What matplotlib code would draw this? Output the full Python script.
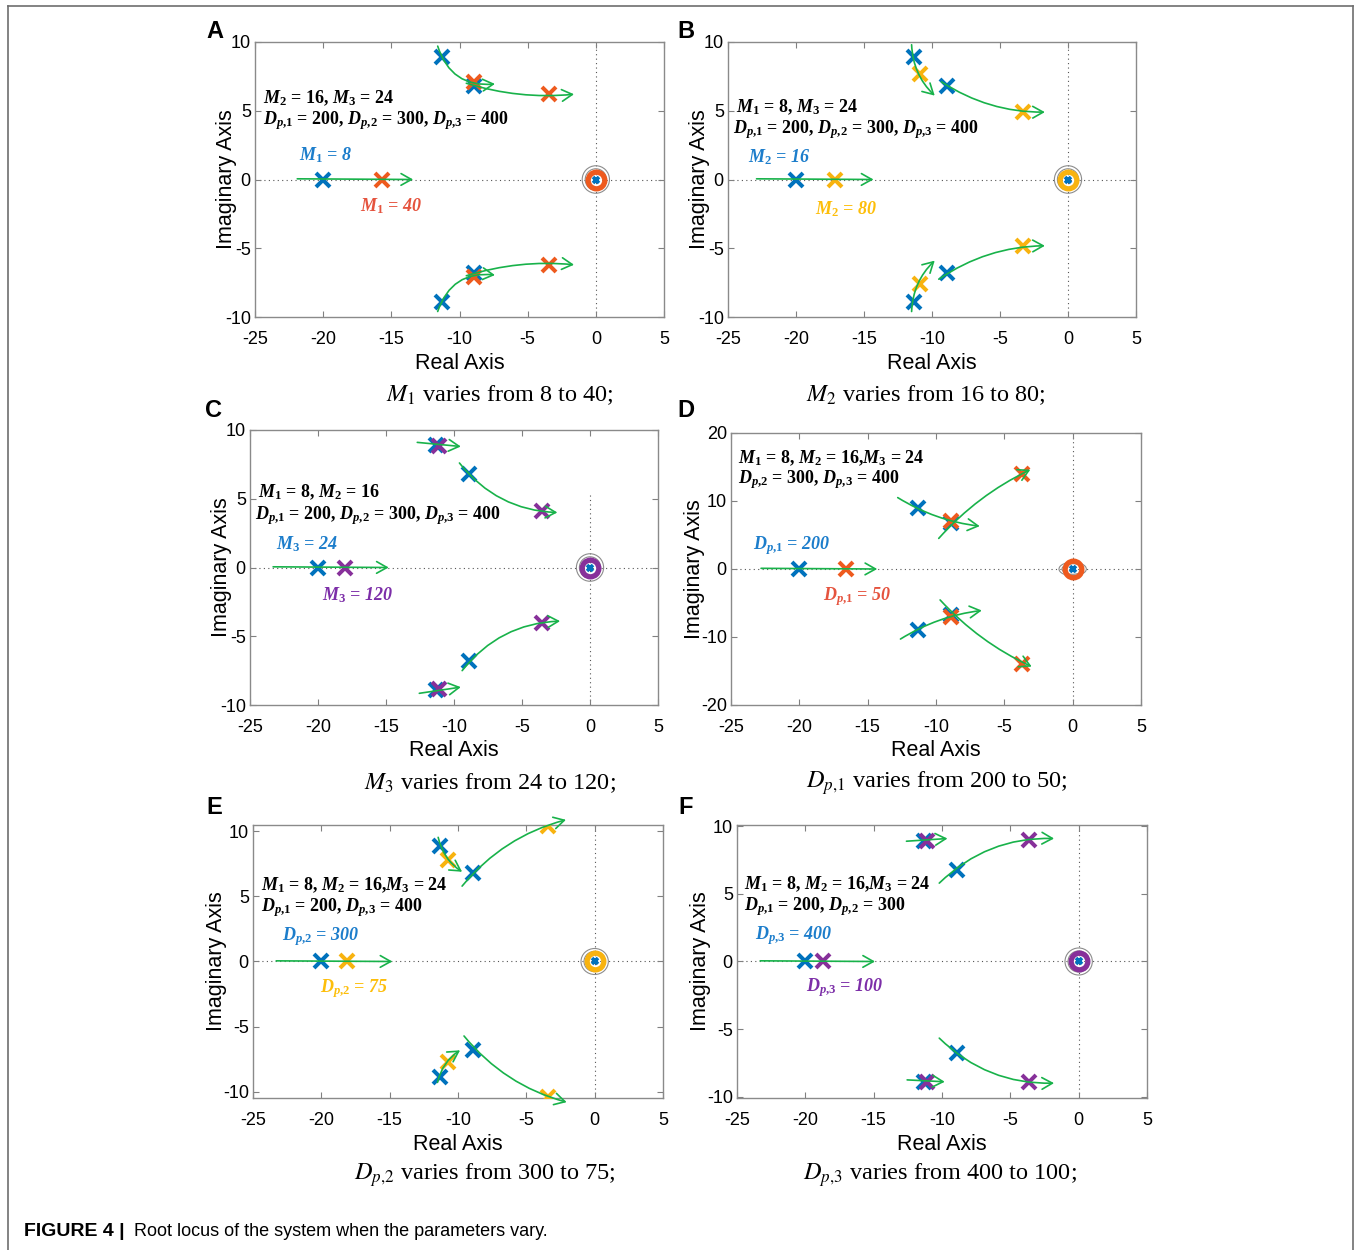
import matplotlib
matplotlib.use("Agg")
import matplotlib.pyplot as plt
from matplotlib.patches import FancyArrowPatch, Circle
from matplotlib.lines import Line2D

plt.rcParams['font.family'] = ['Liberation Sans', 'DejaVu Sans']
plt.rcParams['axes.unicode_minus'] = False
plt.rcParams['mathtext.fontset'] = 'custom'
plt.rcParams['mathtext.rm'] = 'Liberation Serif:bold'
plt.rcParams['mathtext.it'] = 'Liberation Serif:italic:bold'
plt.rcParams['mathtext.bf'] = 'Liberation Serif:bold'

# ---- data ----
# base-case poles (blue), same system in every panel
BASE_RE = [-20.0, -11.3, -11.3, -8.9, -8.9]
BASE_IM = [0.0, 8.9, -8.9, 6.8, -6.8]
ORIGIN_RE = [0.0]
ORIGIN_IM = [0.0]

# poles after the parameter change
A_RE = [-15.7, -8.9, -8.9, -3.4, -3.4]
A_IM = [0.0, 7.1, -7.1, 6.2, -6.2]
B_RE = [-17.1, -10.9, -10.9, -3.3, -3.3]
B_IM = [0.0, 7.7, -7.6, 4.9, -4.85]
C_RE = [-18.0, -11.1, -11.1, -3.5, -3.5]
C_IM = [0.0, 8.85, -8.8, 4.1, -4.05]
D_RE = [-16.6, -8.9, -8.9, -3.7, -3.7]
D_IM = [0.0, 7.1, -7.0, 14.0, -13.9]
E_RE = [-18.1, -10.7, -10.7, -3.4, -3.4]
E_IM = [0.0, 7.8, -7.7, 10.4, -10.4]
F_RE = [-18.7, -11.1, -11.1, -3.6, -3.6]
F_IM = [0.0, 8.9, -8.9, 9.0, -8.9]

# locus arrows: (x start, y start, x end, y end, curvature)
A_ARROWS = [(-21.9, 0.05, -13.4, 0.0, 0.0), (-11.6, 9.7, -7.4, 6.95, 0.4),
            (-9.5, 7.0, -1.6, 6.2, 0.1), (-11.6, -9.6, -7.4, -6.95, -0.4),
            (-9.5, -7.0, -1.6, -6.2, -0.1)]
B_ARROWS = [(-22.9, 0.05, -14.3, 0.0, 0.0), (-11.5, 9.8, -9.8, 6.1, 0.2),
            (-9.3, 7.1, -1.7, 4.9, 0.15), (-11.5, -9.6, -9.8, -5.9, -0.2),
            (-9.5, -7.25, -1.7, -4.82, -0.15)]
C_ARROWS = [(-23.3, 0.05, -14.8, 0.0, 0.0), (-12.7, 9.1, -9.5, 8.8, 0.0),
            (-9.6, 7.6, -2.4, 4.0, 0.23), (-12.55, -9.15, -9.5, -8.7, 0.0),
            (-9.4, -7.5, -2.2, -3.9, -0.23)]
D_ARROWS = [(-22.8, 0.1, -14.3, 0.0, 0.0), (-12.8, 10.5, -6.8, 6.3, 0.11),
            (-9.8, 4.5, -3.1, 14.6, -0.1), (-12.6, -10.3, -6.65, -6.1, -0.11),
            (-9.7, -4.55, -3.0, -14.35, 0.1)]
E_ARROWS = [(-23.3, 0.05, -14.8, 0.0, 0.0), (-11.45, 9.55, -9.7, 6.9, 0.2),
            (-9.7, 5.8, -2.1, 10.9, -0.16), (-11.5, -9.3, -9.85, -6.83, -0.2),
            (-9.56, -5.73, -2.05, -10.82, 0.16)]
F_ARROWS = [(-23.3, 0.05, -14.9, 0.0, 0.0), (-12.6, 8.9, -9.6, 9.1, 0.0),
            (-10.2, 5.8, -1.8, 9.1, -0.21), (-12.55, -8.76, -9.8, -8.9, 0.0),
            (-10.2, -5.67, -1.8, -9.0, 0.21)]

# texts
A_FIXED = [r'$M_2$ = 16, $M_3$ = 24', r'$D_{p{,}1}$ = 200, $D_{p{,}2}$ = 300, $D_{p{,}3}$ = 400']
B_FIXED = [r'$M_1$ = 8, $M_3$ = 24', r'$D_{p{,}1}$ = 200, $D_{p{,}2}$ = 300, $D_{p{,}3}$ = 400']
C_FIXED = [r'$M_1$ = 8, $M_2$ = 16', r'$D_{p{,}1}$ = 200, $D_{p{,}2}$ = 300, $D_{p{,}3}$ = 400']
D_FIXED = [r'$M_1$ = 8, $M_2$ = 16,$M_3$ = 24', r'$D_{p{,}2}$ = 300, $D_{p{,}3}$ = 400']
E_FIXED = [r'$M_1$ = 8, $M_2$ = 16,$M_3$ = 24', r'$D_{p{,}1}$ = 200, $D_{p{,}3}$ = 400']
F_FIXED = [r'$M_1$ = 8, $M_2$ = 16,$M_3$ = 24', r'$D_{p{,}1}$ = 200, $D_{p{,}2}$ = 300']

A_LABELS = [r'$M_1$ = 8', r'$M_1$ = 40']
B_LABELS = [r'$M_2$ = 16', r'$M_2$ = 80']
C_LABELS = [r'$M_3$ = 24', r'$M_3$ = 120']
D_LABELS = [r'$D_{p{,}1}$ = 200', r'$D_{p{,}1}$ = 50']
E_LABELS = [r'$D_{p{,}2}$ = 300', r'$D_{p{,}2}$ = 75']
F_LABELS = [r'$D_{p{,}3}$ = 400', r'$D_{p{,}3}$ = 100']

A_CAPTION = r'$M_1$ varies from 8 to 40;'
B_CAPTION = r'$M_2$ varies from 16 to 80;'
C_CAPTION = r'$M_3$ varies from 24 to 120;'
D_CAPTION = r'$D_{p{,}1}$ varies from 200 to 50;'
E_CAPTION = r'$D_{p{,}2}$ varies from 300 to 75;'
F_CAPTION = r'$D_{p{,}3}$ varies from 400 to 100;'

# ---- styling ----
BLUE = '#0072BD'
ORANGE = '#EE5A1E'
YELLOW = '#F8B30F'
PURPLE = '#87309A'
GREEN = '#18B24A'
TXT_BLUE = '#1C7DCB'
TXT_RED = '#E5533E'
TXT_YELLOW = '#FDBE0A'
TXT_PURPLE = '#7C2EA8'

W, H = 1356, 1250

# per panel layout in pixels: axes box, ylim, ylabel x, fixed-text/label positions
LAYOUT = {
    'A': dict(box=(255, 42, 664, 317), ylim=(-10, 10), yt=[-10, -5, 0, 5, 10],
              ylab=-0.07, fixed=[(-24.4, 5.9), (-24.4, 4.3)],
              lab=[(-21.8, 1.8), (-17.3, -1.95)], letter=(215, 32), cap=(500, 395),
              vline=1.0),
    'B': dict(box=(728, 42, 1136, 317), ylim=(-10, 10), yt=[-10, -5, 0, 5, 10],
              ylab=-0.07, fixed=[(-24.4, 5.25), (-24.6, 3.65)],
              lab=[(-23.5, 1.6), (-18.6, -2.15)], letter=(686, 32), cap=(926, 395),
              vline=1.0),
    'C': dict(box=(250, 430, 658, 705), ylim=(-10, 10), yt=[-10, -5, 0, 5, 10],
              ylab=-0.07, fixed=[(-24.4, 5.45), (-24.6, 3.8)],
              lab=[(-23.1, 1.7), (-19.7, -2.0)], letter=(214, 410), cap=(490, 783),
              vline=0.765),
    'D': dict(box=(731, 433, 1141, 705), ylim=(-20, 20), yt=[-20, -10, 0, 10, 20],
              ylab=-0.088, fixed=[(-24.5, 16.3), (-24.5, 13.1)],
              lab=[(-23.4, 3.5), (-18.3, -4.0)], letter=(686, 410), cap=(937, 783),
              vline=1.0),
    'E': dict(box=(253, 825, 663, 1098), ylim=(-10.5, 10.5), yt=[-10, -5, 0, 5, 10],
              ylab=-0.088, fixed=[(-24.45, 5.9), (-24.45, 4.15)],
              lab=[(-22.9, 1.9), (-20.1, -2.1)], letter=(214, 808), cap=(485, 1175),
              vline=1.0),
    'F': dict(box=(737, 825, 1147, 1098), ylim=(-10.1, 10.1), yt=[-10, -5, 0, 5, 10],
              ylab=-0.09, fixed=[(-24.5, 5.75), (-24.5, 4.1)],
              lab=[(-23.7, 1.95), (-19.95, -1.95)], letter=(686, 808), cap=(940, 1175),
              vline=1.0),
}

PANEL_DATA = {
    'A': (A_RE, A_IM, A_ARROWS, A_FIXED, A_LABELS, A_CAPTION, ORANGE, TXT_RED),
    'B': (B_RE, B_IM, B_ARROWS, B_FIXED, B_LABELS, B_CAPTION, YELLOW, TXT_YELLOW),
    'C': (C_RE, C_IM, C_ARROWS, C_FIXED, C_LABELS, C_CAPTION, PURPLE, TXT_PURPLE),
    'D': (D_RE, D_IM, D_ARROWS, D_FIXED, D_LABELS, D_CAPTION, ORANGE, TXT_RED),
    'E': (E_RE, E_IM, E_ARROWS, E_FIXED, E_LABELS, E_CAPTION, YELLOW, TXT_YELLOW),
    'F': (F_RE, F_IM, F_ARROWS, F_FIXED, F_LABELS, F_CAPTION, PURPLE, TXT_PURPLE),
}

fig = plt.figure(figsize=(W / 100, H / 100), dpi=100)
fig.patch.set_facecolor('white')

# outer frame of the figure panel
frame_kw = dict(color='#6e6e6e', lw=1.2, transform=fig.transFigure)
fig.add_artist(Line2D([8 / W, 8 / W], [0, 1 - 6 / H], **frame_kw))
fig.add_artist(Line2D([8 / W, 1353 / W], [1 - 6 / H, 1 - 6 / H], **frame_kw))
fig.add_artist(Line2D([1353 / W, 1353 / W], [0, 1 - 6 / H], **frame_kw))

for key in ['A', 'B', 'C', 'D', 'E', 'F']:
    re, im, arrows, fixed, labels, caption, col, txt_col = PANEL_DATA[key]
    lay = LAYOUT[key]
    x0, y0, x1, y1 = lay['box']
    ax = fig.add_axes([x0 / W, 1 - y1 / H, (x1 - x0) / W, (y1 - y0) / H])
    ax.set_xlim(-25, 5)
    ax.set_ylim(*lay['ylim'])
    ax.set_xticks([-25, -20, -15, -10, -5, 0, 5])
    ax.set_yticks(lay['yt'])
    ax.tick_params(direction='in', top=True, right=True, length=4, width=0.8,
                   color='#808080', labelsize=13)
    ax.tick_params(axis='x', pad=10)
    ax.tick_params(axis='y', pad=3)
    for sp in ax.spines.values():
        sp.set_color('#8a8a8a')
        sp.set_linewidth(1.0)

    ax.set_xlabel('Real Axis', fontsize=15.5)
    ax.xaxis.label.set_va('center')
    ax.xaxis.set_label_coords(0.5, -46 / (y1 - y0))
    ax.set_ylabel('Imaginary Axis', fontsize=15.5)
    ax.yaxis.label.set_va('center')
    ax.yaxis.set_label_coords(lay['ylab'], 0.5)

    # zero lines
    ax.axhline(0, color='#555555', lw=0.8, ls=(0, (1, 3)), zorder=1)
    ax.axvline(0, ymax=lay['vline'], color='#555555', lw=0.8, ls=(0, (1, 3)), zorder=1)

    # pole/zero cluster at the origin
    for r in (1.0, 0.78):
        ax.add_patch(Circle((ORIGIN_RE[0], ORIGIN_IM[0]), r, fill=False,
                            ec='#8c8c8c', lw=0.8, zorder=2))
    ax.plot(ORIGIN_RE, ORIGIN_IM, 'o', mfc='none', mec=col, ms=12, mew=3.8, zorder=3)
    ax.plot(ORIGIN_RE, ORIGIN_IM, 'x', color=BLUE, ms=5, mew=2.6, zorder=4)

    # base poles then varied poles
    ax.plot(BASE_RE, BASE_IM, 'x', color=BLUE, ms=10, mew=2.9, ls='none', zorder=3)
    ax.plot(re, im, 'x', color=col, ms=10, mew=2.9, ls='none', zorder=4)

    # locus arrows
    for xa, ya, xb, yb, rad in arrows:
        arr = FancyArrowPatch((xa, ya), (xb, yb), connectionstyle=f'arc3,rad={rad}',
                              arrowstyle='->,head_length=0.75,head_width=0.42',
                              mutation_scale=10, color=GREEN, lw=1.2,
                              shrinkA=0, shrinkB=0, clip_on=False, zorder=5)
        ax.add_patch(arr)

    # fixed parameter annotation
    for (tx, ty), s in zip(lay['fixed'], fixed):
        ax.text(tx, ty, s, fontsize=13, family='Liberation Serif', weight='bold',
                ha='left', va='center', zorder=6)
    # start / end labels
    (bx, by), (vx, vy) = lay['lab']
    ax.text(bx, by, labels[0], fontsize=13, family='Liberation Serif', weight='bold',
            style='italic', color=TXT_BLUE, ha='left', va='center', zorder=6)
    ax.text(vx, vy, labels[1], fontsize=13, family='Liberation Serif', weight='bold',
            style='italic', color=txt_col, ha='left', va='center', zorder=6)

    # panel letter and caption
    lx, ly = lay['letter']
    fig.text(lx / W, 1 - ly / H, key, fontsize=17, weight='bold', ha='center', va='center')
    cx, cy = lay['cap']
    fig.text(cx / W, 1 - cy / H, caption, fontsize=17.5, family='Liberation Serif',
             math_fontfamily='stix', ha='center', va='center')

fig.text(24 / W, 1 - 1232 / H, 'FIGURE 4 |', fontsize=14, weight='bold',
         ha='left', va='center')
fig.text(134 / W, 1 - 1232 / H, 'Root locus of the system when the parameters vary.',
         fontsize=13, ha='left', va='center')

fig.savefig('out.png', dpi=100, facecolor='white')
